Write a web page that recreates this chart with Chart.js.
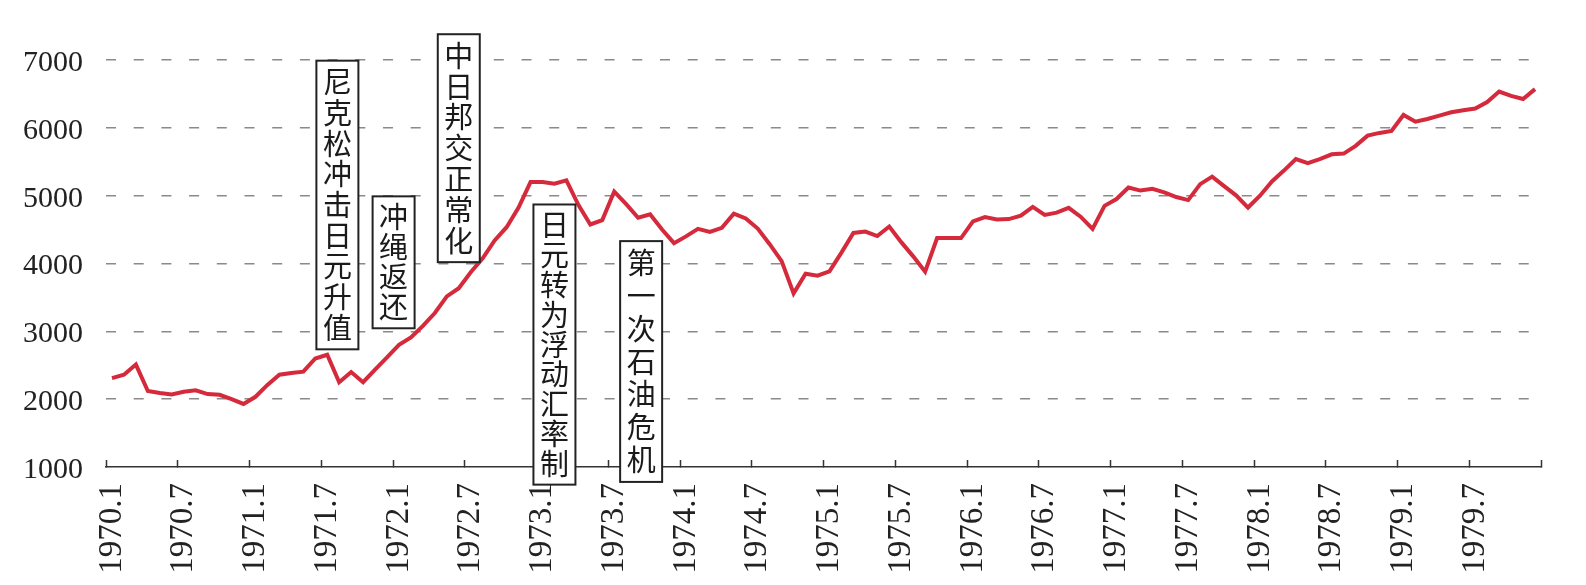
<!DOCTYPE html>
<html>
<head>
<meta charset="utf-8">
<script src="https://cdn.jsdelivr.net/npm/chart.js@4.4.1/dist/chart.umd.min.js"></script>
<style>
  html, body { margin: 0; padding: 0; background: #fff; }
</style>
</head>
<body>
<canvas id="chart" width="1586" height="585"></canvas>
<script>
/* monthly index 1970.1 - 1979.12 */
const years = [1970, 1971, 1972, 1973, 1974, 1975, 1976, 1977, 1978, 1979];
const monthNums = [1, 2, 3, 4, 5, 6, 7, 8, 9, 10, 11, 12];

const v1970 = [2310, 2360, 2510, 2120, 2090, 2070, 2110, 2130, 2075, 2065, 2000, 1930];
const v1971 = [2035, 2210, 2360, 2385, 2405, 2600, 2655, 2250, 2400, 2250, 2435, 2615];
const v1972 = [2800, 2910, 3080, 3270, 3515, 3635, 3870, 4075, 4340, 4535, 4825, 5200];
const v1973 = [5200, 5175, 5225, 4865, 4575, 4640, 5060, 4875, 4675, 4725, 4500, 4300];
const v1974 = [4400, 4510, 4465, 4525, 4735, 4665, 4515, 4285, 4035, 3560, 3850, 3820];
const v1975 = [3885, 4160, 4450, 4470, 4405, 4545, 4315, 4105, 3880, 4375, 4375, 4375];
const v1976 = [4620, 4685, 4650, 4655, 4705, 4835, 4715, 4750, 4820, 4690, 4510, 4850];
const v1977 = [4950, 5120, 5075, 5100, 5050, 4980, 4935, 5170, 5280, 5140, 5005, 4825];
const v1978 = [5000, 5210, 5370, 5540, 5480, 5540, 5610, 5620, 5735, 5885, 5925, 5955];
const v1979 = [6190, 6090, 6130, 6180, 6230, 6260, 6285, 6380, 6535, 6470, 6425, 6570];

const tickLabels = ['1970.1', '1970.7', '1971.1', '1971.7', '1972.1', '1972.7', '1973.1',
  '1973.7', '1974.1', '1974.7', '1975.1', '1975.7', '1976.1', '1976.7', '1977.1', '1977.7',
  '1978.1', '1978.7', '1979.1', '1979.7'];
const yTicks = [1000, 2000, 3000, 4000, 5000, 6000, 7000];

// event notes: x = month index, top/bottom in value units
const noteTexts  = ['尼克松冲击日元升值', '冲绳返还', '中日邦交正常化', '日元转为浮动汇率制', '第一次石油危机'];
const noteAt     = [18.85, 23.55, 29.0, 37.0, 44.25];
const noteTop    = [6990, 4990, 7380, 4870, 4330];
const noteBottom = [2735, 3045, 4020, 740, 780];

const months = years.flatMap(y => monthNums.map(m => y + '.' + m));
const values = [].concat(v1970, v1971, v1972, v1973, v1974, v1975, v1976, v1977, v1978, v1979);

const AXIS = '#333';
const SERIF = '"Liberation Serif", "Times New Roman", serif';

const noteBoxes = {
  id: 'noteBoxes',
  afterDraw(chart) {
    const { ctx } = chart;
    const x = chart.scales.x, y = chart.scales.y;
    ctx.save();
    ctx.font = '29px "Noto Sans CJK SC"';
    ctx.textAlign = 'center';
    ctx.textBaseline = 'middle';
    noteTexts.forEach((txt, i) => {
      const cx = x.getPixelForValue(noteAt[i]);
      const top = y.getPixelForValue(noteTop[i]);
      const bottom = y.getPixelForValue(noteBottom[i]);
      const w = 42;
      ctx.fillStyle = '#fff';
      ctx.fillRect(cx - w / 2, top, w, bottom - top);
      ctx.lineWidth = 2;
      ctx.strokeStyle = '#222';
      ctx.strokeRect(cx - w / 2, top, w, bottom - top);
      const chars = Array.from(txt);
      const pad = 6;
      const step = (bottom - top - pad * 2) / chars.length;
      ctx.fillStyle = '#1a1a1a';
      chars.forEach((c, k) => ctx.fillText(c, cx, top + pad + step * (k + 0.5)));
    });
    ctx.restore();
  }
};

new Chart(document.getElementById('chart'), {
  type: 'line',
  data: {
    labels: months,
    datasets: [{
      data: values,
      borderColor: '#d42a3c',
      borderWidth: 4,
      pointRadius: 0,
      tension: 0,
      fill: false
    }]
  },
  options: {
    responsive: false,
    animation: false,
    layout: { padding: { left: 0, top: 60, right: 45, bottom: 0 } },
    plugins: { legend: { display: false }, tooltip: { enabled: false } },
    scales: {
      x: {
        type: 'category',
        offset: true,
        border: { display: true, color: AXIS, width: 1.5 },
        grid: {
          offset: true,
          drawOnChartArea: false,
          drawTicks: true,
          tickLength: -7,
          tickWidth: 1.5,
          color: c => (c.index === undefined || c.index % 6 === 0) ? AXIS : 'rgba(0,0,0,0)',
          tickColor: c => (c.index === undefined || c.index % 6 === 0) ? AXIS : 'rgba(0,0,0,0)'
        },
        ticks: {
          autoSkip: false,
          minRotation: 90,
          maxRotation: 90,
          padding: 23,
          color: '#222',
          font: { family: SERIF, size: 33 },
          callback: (v, i) => tickLabels.includes(months[i]) ? months[i] : ''
        },
        afterFit: s => { s.height = 118; s.paddingLeft = 0; s.paddingRight = 0; }
      },
      y: {
        min: 1000,
        max: 7000,
        afterBuildTicks: s => { s.ticks = yTicks.map(v => ({ value: v })); },
        border: { display: false, dash: [10, 17.7] },
        grid: {
          drawTicks: false,
          lineWidth: 1.5,
          color: c => (c.tick && c.tick.value === 1000) ? 'rgba(0,0,0,0)' : '#8a8a8a'
        },
        ticks: {
          padding: 23,
          labelOffset: 3,
          color: '#222',
          font: { family: SERIF, size: 30 },
          callback: v => String(v)
        },
        afterFit: s => { s.width = 106; s.paddingTop = 0; s.paddingBottom = 0; }
      }
    }
  },
  plugins: [noteBoxes]
});
</script>
</body>
</html>
